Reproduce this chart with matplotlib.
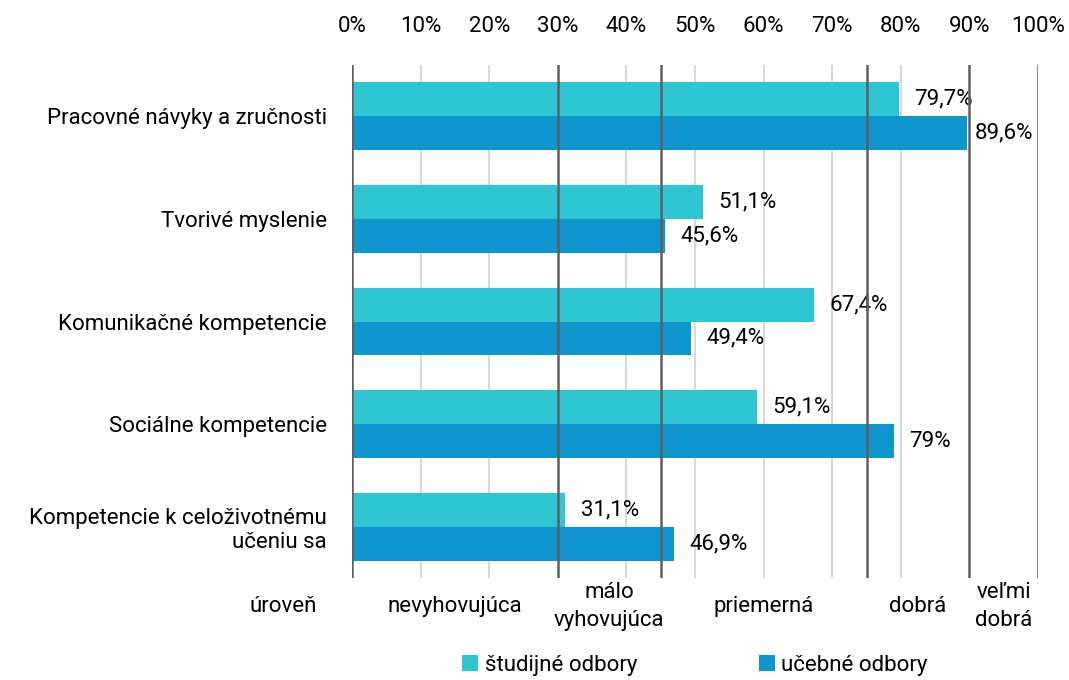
import matplotlib.pyplot as plt
import numpy as np

plt.rcParams['font.family'] = ['Roboto', 'DejaVu Sans']

# Gegevens
kategorie = ['Pracovné návyky a zručnosti', 'Tvorivé myslenie', 'Komunikačné kompetencie',
             'Sociálne kompetencie', 'Kompetencie k celoživotnému\nučeniu sa']
studijne = [79.7, 51.1, 67.4, 59.1, 31.1]
ucebne = [89.6, 45.6, 49.4, 79.0, 46.9]
studijne_txt = ['79,7%', '51,1%', '67,4%', '59,1%', '31,1%']
ucebne_txt = ['89,6%', '45,6%', '49,4%', '79%', '46,9%']

hranice = [0, 30, 45, 75, 90, 100]
urovne = ['nevyhovujúca', 'málo\nvyhovujúca', 'priemerná', 'dobrá', 'veľmi\ndobrá']

c_stud = '#2ec6d2'
c_uceb = '#0f96cf'

fig = plt.figure(figsize=(10.69, 6.8), dpi=100)
ax = fig.add_axes([0.3293, 0.15, 0.6417, 0.7544])

y = np.arange(len(kategorie))
h = 0.33
b1 = ax.barh(y - h / 2, studijne, height=h, color=c_stud, label='študijné odbory', zorder=2)
b2 = ax.barh(y + h / 2, ucebne, height=h, color=c_uceb, label='učebné odbory', zorder=2)

ax.bar_label(b1, labels=studijne_txt, padding=11, fontsize=16)
pads = [6 if v > 85 else 11 for v in ucebne]
for rect, txt, p in zip(b2, ucebne_txt, pads):
    ax.annotate(txt, (rect.get_width(), rect.get_y() + rect.get_height() / 2),
                xytext=(p, 0), textcoords='offset points', va='center', fontsize=16)

ax.set_xlim(0, 100)
ax.set_ylim(len(kategorie) - 0.5, -0.5)
ax.set_yticks(y)
ax.set_yticklabels(kategorie, fontsize=16, ha='right', multialignment='right')
ax.tick_params(axis='y', length=0, pad=18)
ax.xaxis.tick_top()
ax.set_xticks(np.arange(0, 101, 10))
ax.set_xticklabels([f'{v}%' for v in range(0, 101, 10)], fontsize=16)
ax.tick_params(axis='x', length=0, pad=20)

for v in range(10, 100, 10):
    if v not in hranice:
        ax.axvline(v, color='#d9d9d9', lw=1.5, zorder=1)
for v in hranice:
    ax.axvline(v, color='#5f5f5f', lw=1.8, zorder=3)

for s in ax.spines.values():
    s.set_visible(False)

# Úrovne pod grafom
for i, txt in enumerate(urovne):
    xm = (hranice[i] + hranice[i + 1]) / 2
    ax.text(xm, -0.055, txt, transform=ax.get_xaxis_transform(), ha='center', va='center',
            fontsize=16, linespacing=1.45)
ax.text(-10, -0.055, 'úroveň', transform=ax.get_xaxis_transform(), ha='center', va='center',
        fontsize=16)

ax.legend(loc='upper center', bbox_to_anchor=(0.5, -0.15), ncol=2, frameon=False,
          fontsize=16, handlelength=0.7, handleheight=0.7, handletextpad=0.3,
          columnspacing=5.5, borderaxespad=0, borderpad=0)

plt.savefig('out.png')
